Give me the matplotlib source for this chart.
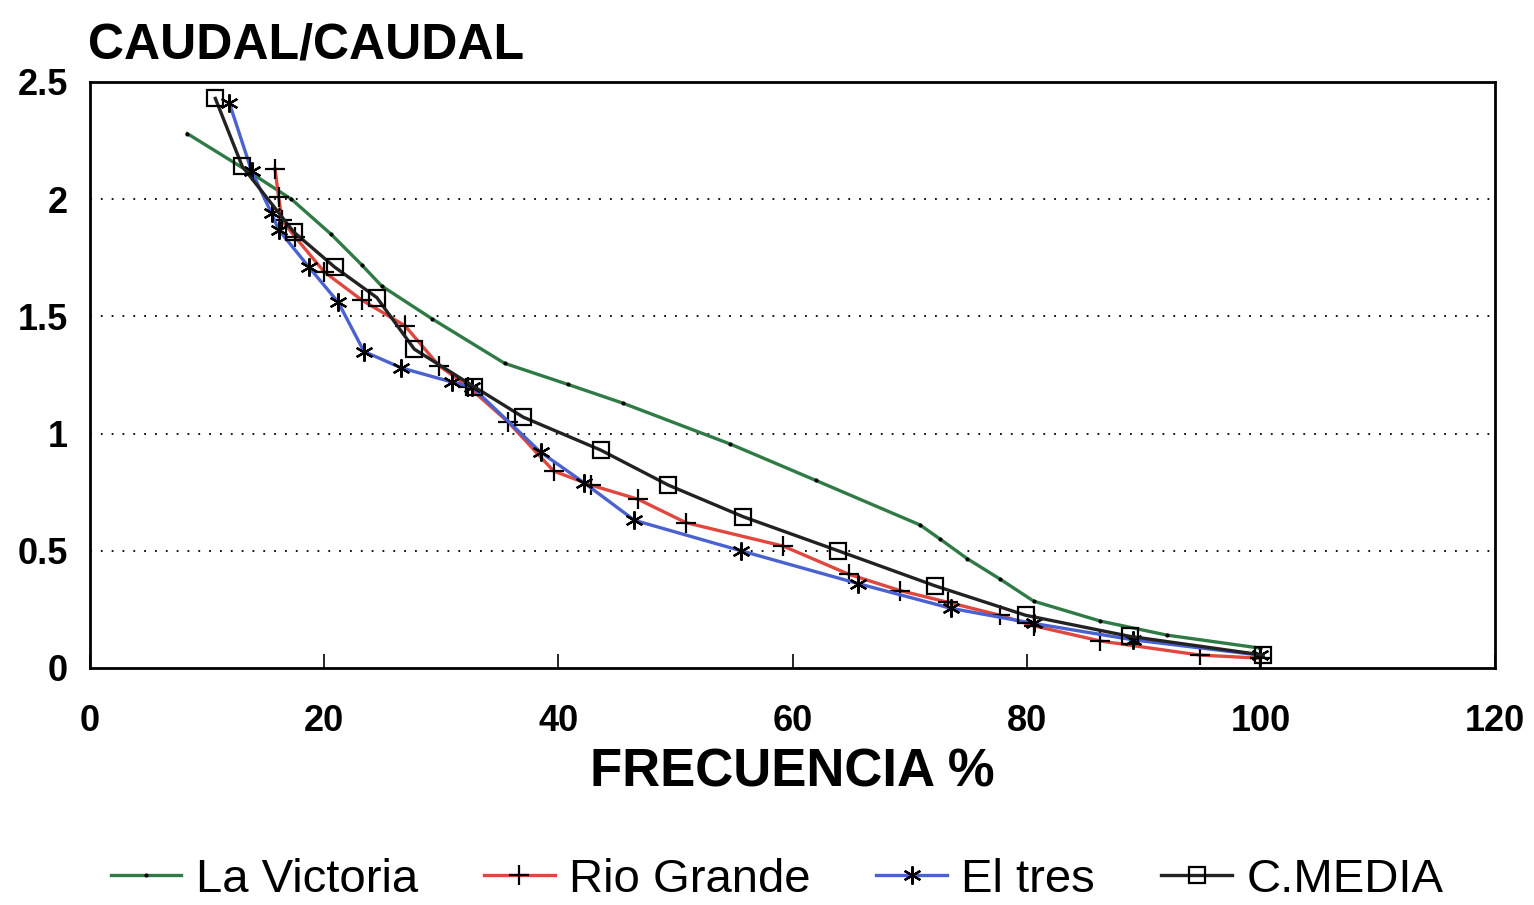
import matplotlib.pyplot as plt

plt.rcParams['font.family'] = ['Liberation Sans', 'DejaVu Sans']

# curvas de duracion: frecuencia (%) vs caudal/caudal medio
victoria_x = [8.3, 13.8, 17.2, 20.6, 23.2, 24.9, 29.2, 35.4, 40.8, 45.5, 54.7,
              62.0, 70.9, 72.6, 74.9, 77.7, 80.6, 86.3, 92.0, 99.9]
victoria_y = [2.28, 2.11, 2.0, 1.85, 1.72, 1.63, 1.49, 1.30, 1.21, 1.13, 0.955,
              0.80, 0.61, 0.55, 0.467, 0.38, 0.285, 0.20, 0.14, 0.085]

rio_x = [15.8, 16.1, 16.4, 17.5, 20.0, 23.2, 26.9, 29.8, 32.3, 35.7, 39.6, 42.8,
         46.8, 50.9, 59.2, 64.8, 69.2, 73.3, 77.7, 80.6, 86.3, 94.8, 99.9]
rio_y = [2.13, 2.01, 1.91, 1.84, 1.69, 1.57, 1.46, 1.29, 1.20, 1.05, 0.84, 0.78,
         0.72, 0.62, 0.52, 0.40, 0.33, 0.28, 0.225, 0.18, 0.115, 0.055, 0.042]

tres_x = [11.9, 13.8, 15.5, 16.1, 18.7, 21.2, 23.4, 26.6, 30.9, 32.6, 38.5,
          42.2, 46.5, 55.6, 65.6, 73.5, 80.6, 89.1, 99.9]
tres_y = [2.41, 2.12, 1.94, 1.87, 1.71, 1.56, 1.35, 1.28, 1.22, 1.20, 0.92,
          0.79, 0.63, 0.50, 0.36, 0.255, 0.19, 0.12, 0.055]

media_x = [10.7, 13.0, 17.4, 20.9, 24.5, 27.7, 32.8, 37.0, 43.6, 49.4, 55.8,
           63.9, 72.2, 79.9, 88.8, 100.2]
media_y = [2.43, 2.14, 1.86, 1.71, 1.58, 1.36, 1.20, 1.07, 0.93, 0.78, 0.645,
           0.50, 0.35, 0.225, 0.135, 0.055]

xticks = [0, 20, 40, 60, 80, 100, 120]
yticks = [0, 0.5, 1, 1.5, 2, 2.5]
ytick_labels = ['0', '0.5', '1', '1.5', '2', '2.5']

fig = plt.figure(figsize=(15.34, 9.05), dpi=100)
ax = fig.add_axes([0.0587, 0.2619, 0.9159, 0.6475])

ax.plot(victoria_x, victoria_y, color='#2f7a45', lw=2.4, marker='.', ms=4,
        mec='black', mfc='black', label='La Victoria')
ax.plot(rio_x, rio_y, color='#e0473f', lw=2.4, marker='+', ms=15, mew=1.6,
        mec='black', label='Rio Grande')
ax.plot(tres_x, tres_y, color='#4a62d0', lw=2.4, marker=(6, 2, 0), ms=13,
        mew=1.6, mec='black', label='El tres')
ax.plot(media_x, media_y, color='#222222', lw=2.4, marker='s', ms=11, mew=1.6,
        mec='black', mfc='none', label='C.MEDIA')

ax.set_xlim(0, 120)
ax.set_ylim(0, 2.5)
ax.set_xticks(xticks)
ax.set_xticklabels([str(t) for t in xticks])
ax.set_yticks(yticks)
ax.set_yticklabels(ytick_labels)
ax.tick_params(axis='x', direction='in', length=10, width=1.2, pad=26,
               labelsize=26)
ax.tick_params(axis='y', length=0, pad=16, labelsize=26)
for lab in ax.get_xticklabels() + ax.get_yticklabels():
    lab.set_fontweight('bold')

for v in [0.5, 1, 1.5, 2]:
    ax.axhline(v, color='black', lw=1.3, ls=(0, (1, 5)), zorder=0)

for s in ax.spines.values():
    s.set_linewidth(2)

ax.set_xlabel('FRECUENCIA %', fontsize=38, fontweight='bold', labelpad=6)
fig.text(88 / 1534, 1 - 45 / 905, 'CAUDAL/CAUDAL', fontsize=36,
         fontweight='bold', ha='left', va='center')

fig.legend(loc='center', bbox_to_anchor=(777 / 1534, 1 - 880 / 905), ncol=4,
           frameon=False, fontsize=34, handlelength=1.5, columnspacing=1.4,
           handletextpad=0.3, borderpad=0)

fig.savefig('out.png', dpi=100)
